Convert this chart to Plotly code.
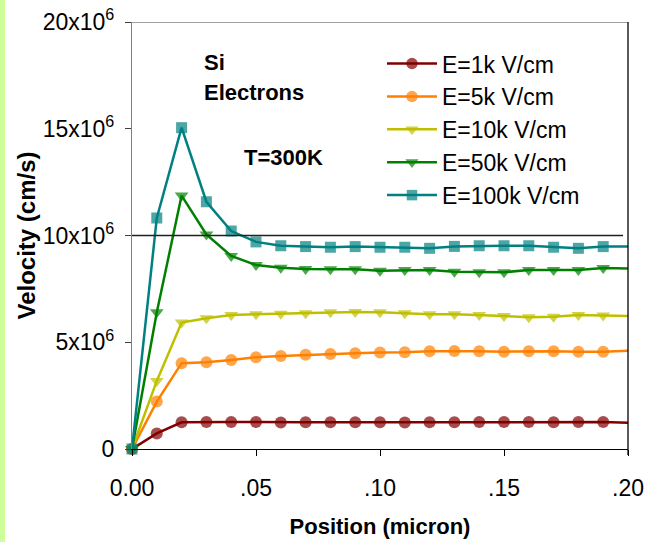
import plotly.graph_objects as go

# Position along the device (micron)
position = [0.00, 0.01, 0.02, 0.03, 0.04, 0.05, 0.06, 0.07, 0.08, 0.09, 0.10,
            0.11, 0.12, 0.13, 0.14, 0.15, 0.16, 0.17, 0.18, 0.19, 0.20]

# Electron velocity (cm/s) for each applied field
v_1k = [0.0, 0.73e6, 1.25e6, 1.27e6, 1.27e6, 1.26e6, 1.24e6, 1.25e6, 1.25e6, 1.25e6, 1.25e6,
        1.24e6, 1.25e6, 1.25e6, 1.27e6, 1.27e6, 1.26e6, 1.25e6, 1.26e6, 1.26e6, 1.23e6]
v_5k = [0.0, 2.22e6, 4.02e6, 4.06e6, 4.17e6, 4.30e6, 4.36e6, 4.41e6, 4.45e6, 4.48e6, 4.52e6,
        4.53e6, 4.58e6, 4.59e6, 4.58e6, 4.56e6, 4.58e6, 4.58e6, 4.56e6, 4.55e6, 4.60e6]
v_10k = [0.0, 3.19e6, 5.92e6, 6.12e6, 6.28e6, 6.31e6, 6.34e6, 6.36e6, 6.40e6, 6.42e6, 6.40e6,
         6.36e6, 6.31e6, 6.31e6, 6.28e6, 6.23e6, 6.17e6, 6.20e6, 6.28e6, 6.25e6, 6.23e6]
v_50k = [0.0, 6.40e6, 11.87e6, 10.05e6, 9.04e6, 8.62e6, 8.49e6, 8.43e6, 8.42e6, 8.42e6, 8.35e6,
         8.38e6, 8.38e6, 8.30e6, 8.28e6, 8.28e6, 8.38e6, 8.38e6, 8.38e6, 8.48e6, 8.45e6]
v_100k = [0.0, 10.82e6, 15.05e6, 11.58e6, 10.21e6, 9.70e6, 9.52e6, 9.48e6, 9.45e6, 9.48e6, 9.45e6,
          9.45e6, 9.40e6, 9.49e6, 9.52e6, 9.52e6, 9.52e6, 9.45e6, 9.40e6, 9.48e6, 9.48e6]

series_names = ["E=1k V/cm", "E=5k V/cm", "E=10k V/cm", "E=50k V/cm", "E=100k V/cm"]
series_values = [v_1k, v_5k, v_10k, v_50k, v_100k]
series_colors = ["#800000", "#FF8000", "#BFBF00", "#008000", "#008080"]
series_symbols = ["circle", "circle", "triangle-down", "triangle-down", "square"]
series_sizes = [12, 12, 12, 12, 11]

x_tick_vals = [0.0, 0.05, 0.10, 0.15, 0.20]
x_tick_text = ["0.00", ".05", ".10", ".15", ".20"]
y_tick_vals = [0, 5e6, 10e6, 15e6, 20e6]
y_tick_text = ["0", "5x10<sup>6</sup>", "10x10<sup>6</sup>", "15x10<sup>6</sup>", "20x10<sup>6</sup>"]

FONT = "Liberation Sans, Arial, sans-serif"

fig = go.Figure()
for name, vals, color, sym, size in zip(series_names, series_values, series_colors,
                                         series_symbols, series_sizes):
    # the line runs to the right edge, but the last sample carries no marker
    sizes = [size] * (len(position) - 1) + [0]
    fig.add_trace(go.Scatter(
        x=position, y=vals, name=name, mode="lines+markers",
        line=dict(color=color, width=2.5),
        marker=dict(symbol=sym, size=sizes, color=color, line=dict(width=0)),
        cliponaxis=False,
    ))

fig.update_layout(
    width=649, height=542,
    margin=dict(l=132, r=21, t=22, b=93),
    paper_bgcolor="white", plot_bgcolor="white",
    font=dict(family=FONT, size=23, color="black"),
    showlegend=True,
    legend=dict(
        x=0.504, y=0.953, xanchor="left", yanchor="top",
        bgcolor="rgba(0,0,0,0)", font=dict(size=23),
        itemwidth=50, tracegroupgap=0,
    ),
    xaxis=dict(
        range=[0, 0.2], tickvals=x_tick_vals, ticktext=x_tick_text,
        showgrid=False, zeroline=False, automargin=False,
        showline=True, linecolor="black", linewidth=1.3,
        ticks="outside", ticklen=6, tickcolor="black",
        ticklabelstandoff=12,
        title=dict(text="<b>Position (micron)</b>", font=dict(size=22), standoff=18),
    ),
    yaxis=dict(
        range=[0, 20e6], tickvals=y_tick_vals, ticktext=y_tick_text,
        showgrid=False, zeroline=False, automargin=False,
        showline=True, linecolor="#808080", linewidth=1.3,
        ticks="outside", ticklen=6, tickcolor="#404040",
        ticklabelstandoff=6,
        title=dict(text="<b>Velocity (cm/s)</b>", font=dict(size=24), standoff=0),
    ),
    shapes=[
        # light green strip on the left edge of the page
        dict(type="rect", xref="paper", yref="paper",
             x0=-132 / 496, x1=-127 / 496, y0=-93 / 427, y1=1 + 22 / 427,
             fillcolor="#CCFF99", line=dict(width=0), layer="below"),
        # gridlines at 10x10^6 and 20x10^6
        dict(type="line", xref="paper", yref="y", x0=0, x1=0.99, y0=10e6, y1=10e6,
             line=dict(color="#202020", width=1.3)),
        dict(type="line", xref="paper", yref="y", x0=0, x1=1, y0=20e6, y1=20e6,
             line=dict(color="#808080", width=1.3)),
        # right border of the plot area
        dict(type="line", xref="paper", yref="paper", x0=1, x1=1, y0=-6 / 427, y1=1,
             line=dict(color="black", width=1.3)),
    ],
    annotations=[
        dict(text="<b>Si</b>", xref="paper", yref="paper", x=0.141, y=0.905,
             xanchor="left", yanchor="middle", showarrow=False, font=dict(size=22)),
        dict(text="<b>Electrons</b>", xref="paper", yref="paper", x=0.141, y=0.835,
             xanchor="left", yanchor="middle", showarrow=False, font=dict(size=22)),
        dict(text="<b>T=300K</b>", xref="paper", yref="paper", x=0.222, y=0.682,
             xanchor="left", yanchor="middle", showarrow=False, font=dict(size=22)),
    ],
)

fig.write_html("out.html")
